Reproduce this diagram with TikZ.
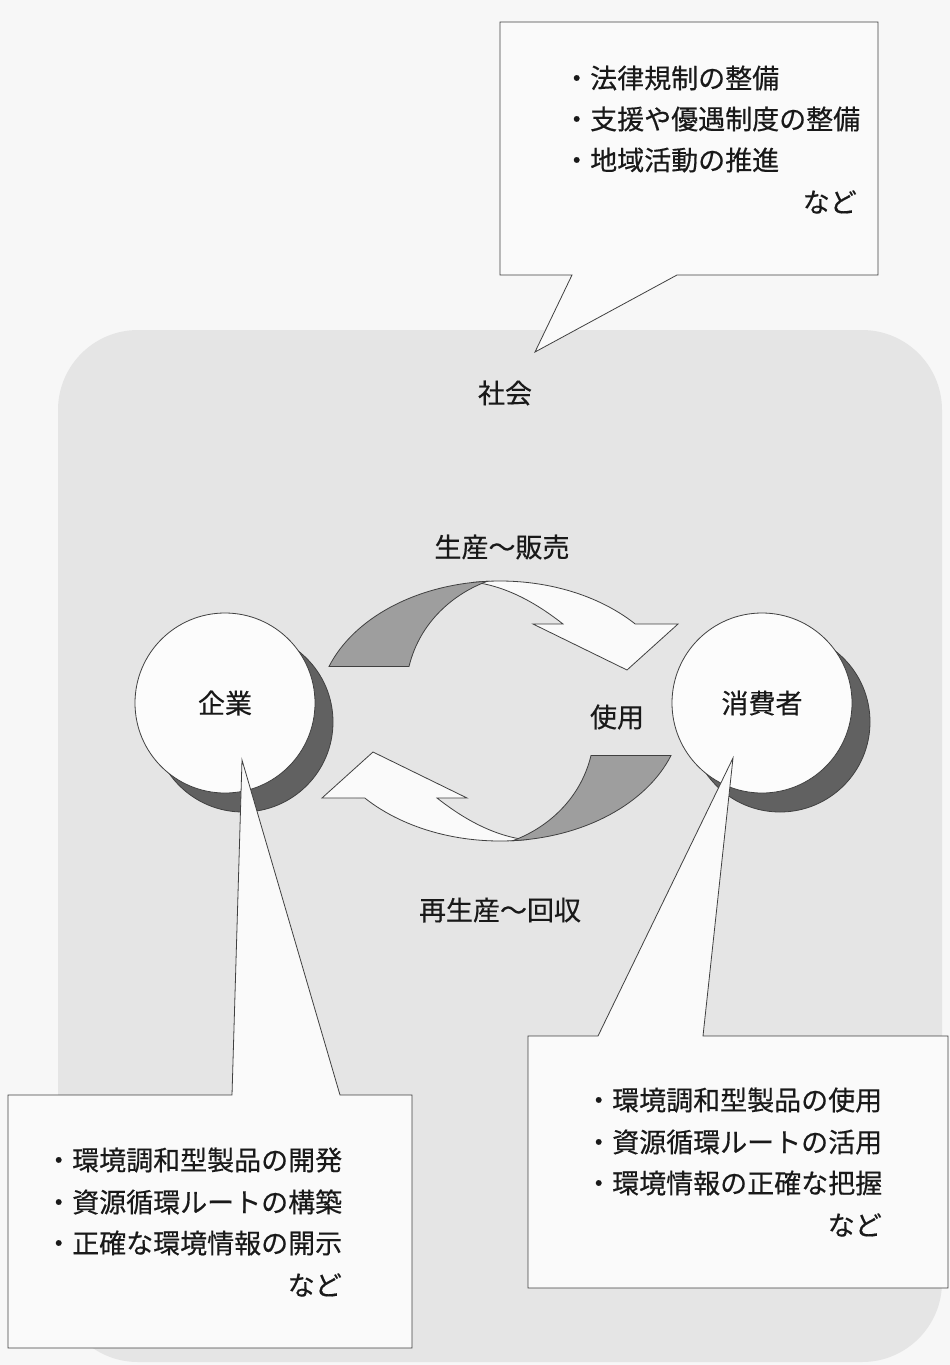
\documentclass[tikz,border=0pt]{standalone}
\usepackage{fontspec}
\newfontfamily\jp[FakeBold=0.4]{Noto Sans CJK JP}
\begin{document}
\begin{tikzpicture}[x=1pt,y=-1pt]
\tikzset{
  outl/.style={draw=black!75, line width=0.8pt},
  callout/.style={outl, fill=black!2},
  lbl/.style={font=\jp\fontsize{27}{32}\selectfont, inner sep=0pt, text=black!90},
  ribbonwhite/.style={outl, fill=black!2},
  ribbongray/.style={outl, fill=black!38},
  shadowdisc/.style={outl, fill=black!62},
  disc/.style={outl, fill=black!1, circle, minimum size=180pt, inner sep=0pt},
}
\useasboundingbox (0,0) rectangle (950,1365);
\fill[black!3] (0,0) rectangle (950,1365);
% background region
\fill[black!10, rounded corners=80pt] (58,330) rectangle (942,1362);

% circles
\draw[shadowdisc] (243,722) circle (90);
\node[disc, lbl] (kigyo) at (225,703) {企業};
\draw[shadowdisc] (780,722) circle (90);
\node[disc, lbl] (shohi) at (762,703) {消費者};

% ribbon arrows
\foreach \r in {0,180}{
\begin{scope}[shift={(500,711)}, rotate=\r]
  \draw[ribbonwhite] (262:182 and 130) arc[start angle=262, end angle=318, x radius=182, y radius=130]
     -- (178,-87) -- (127,-41) -- (33,-87) -- (63,-87)
     .. controls (40,-105) and (10,-124) .. (262:182 and 130) -- cycle;
  \draw[ribbongray] (200:182 and 130) arc[start angle=200, end angle=266, x radius=182, y radius=130]
     .. controls (-45,-118) and (-80,-90) .. (-91,-44.5) -- cycle;
\end{scope}
}

% labels
\node[lbl] (shakai) at (505,393) {社会};
\node[lbl] (seisan) at (502,547) {生産～販売};
\node[lbl] (shiyo) at (617,717) {使用};
\node[lbl] (saisei) at (500,910) {再生産～回収};

% callout: society
\draw[callout] (500,22) -- (878,22) -- (878,275) -- (677,275) -- (535,352) -- (572,275) -- (500,275) -- cycle;
\node[lbl, anchor=west] (s1) at (563,78) {・法律規制の整備};
\node[lbl, anchor=west] (s2) at (563,119) {・支援や優遇制度の整備};
\node[lbl, anchor=west] (s3) at (563,160) {・地域活動の推進};
\node[lbl, anchor=east] (s4) at (857,202) {など};

% callout: company
\draw[callout] (8,1095) -- (232,1095) -- (242,760) -- (340,1095) -- (412,1095) -- (412,1348) -- (8,1348) -- cycle;
\node[lbl, anchor=west] (k1) at (45,1160) {・環境調和型製品の開発};
\node[lbl, anchor=west] (k2) at (45,1202) {・資源循環ルートの構築};
\node[lbl, anchor=west] (k3) at (45,1243) {・正確な環境情報の開示};
\node[lbl, anchor=east] (k4) at (342,1285) {など};

% callout: consumer
\draw[callout] (528,1036) -- (598,1036) -- (733,758) -- (703,1036) -- (948,1036) -- (948,1288) -- (528,1288) -- cycle;
\node[lbl, anchor=west] (c1) at (585,1100) {・環境調和型製品の使用};
\node[lbl, anchor=west] (c2) at (585,1142) {・資源循環ルートの活用};
\node[lbl, anchor=west] (c3) at (585,1183) {・環境情報の正確な把握};
\node[lbl, anchor=east] (c4) at (882,1225) {など};
\end{tikzpicture}
\end{document}
